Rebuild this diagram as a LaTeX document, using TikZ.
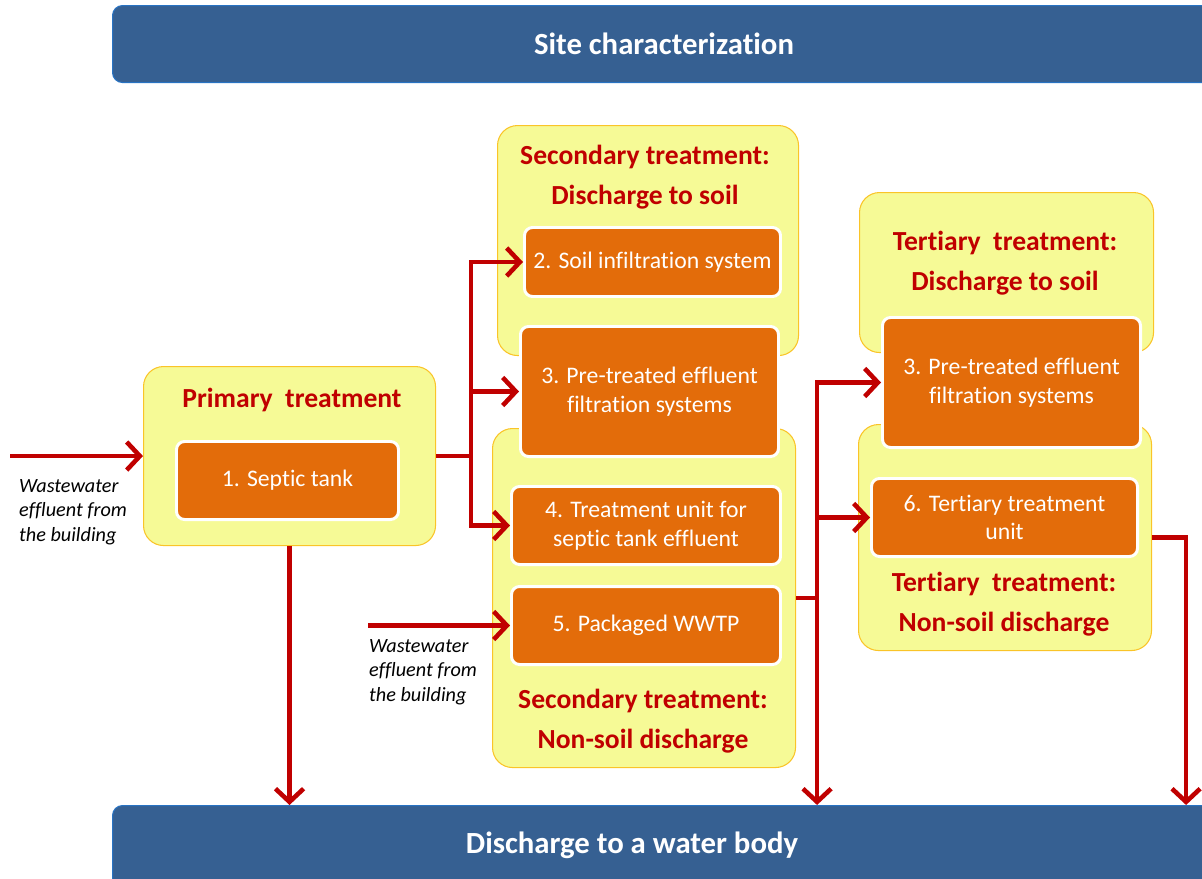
\documentclass[tikz,border=0pt]{standalone}
\usepackage{fontspec}
\setmainfont{Carlito}[Ligatures=NoCommon]
\usetikzlibrary{arrows.meta}
\definecolor{barblue}{RGB}{54,96,146}
\definecolor{baredge}{RGB}{40,115,195}
\definecolor{paleyellow}{RGB}{246,250,150}
\definecolor{goldedge}{RGB}{250,196,40}
\definecolor{unitorange}{RGB}{227,108,10}
\definecolor{flowred}{RGB}{192,0,0}
\tikzset{
	group/.style={draw=goldedge, line width=0.6pt, fill=paleyellow, rounded corners=0.4cm, anchor=north west},
	unit/.style={draw=white, line width=1.7pt, fill=unitorange, rounded corners=0.16cm, text=white, align=center, font=\fontsize{13.5}{16.4}\selectfont, anchor=north west},
	grouptitle/.style={text=flowred, align=center, font=\fontsize{15.7}{23}\selectfont\bfseries},
	bar/.style={draw=baredge, line width=0.6pt, fill=barblue, rounded corners=0.2cm, anchor=north west, minimum width=22.06cm, text=white, font=\fontsize{17.5}{21}\selectfont\bfseries},
	source/.style={align=left, font=\fontsize{11.5}{13.9}\selectfont\itshape, anchor=north west},
	pipe/.style={draw=flowred, line width=2.6pt},
	flow/.style={pipe, -{Straight Barb[length=7.5pt,width=16pt]}},
}
\begin{document}
\begin{tikzpicture}[x=0.2mm, y=-0.2mm]
	\useasboundingbox (0,0) rectangle (1202,878);
	\clip (0,0) rectangle (1202,878);

	\node [bar, minimum height=1.54cm] (site) at (112,5) {Site characterization};
	\node [bar, minimum height=1.8cm] (water) at (112,805) {};
	\node [text=white, font=\fontsize{17.5}{21}\selectfont\bfseries] (watertitle) at (632,845) {Discharge to a water body};

	\node [group, minimum width=5.84cm, minimum height=3.58cm] (prim) at (143,366) {};
	\node [group, minimum width=6.02cm, minimum height=4.6cm] (soil2) at (497,125) {};
	\node [group, minimum width=6.06cm, minimum height=6.78cm] (nonsoil2) at (492,428) {};
	\node [group, minimum width=5.88cm, minimum height=3.2cm] (soil3) at (859,192) {};
	\node [group, minimum width=5.86cm, minimum height=4.52cm] (nonsoil3) at (858,424) {};

	\node [grouptitle] (primtitle) at (292,400) {Primary~ treatment};
	\node [grouptitle] (soil2title) at (645,177) {Secondary treatment:\\Discharge to soil};
	\node [grouptitle] (nonsoil2title) at (643,721) {Secondary treatment:\\Non-soil discharge};
	\node [grouptitle] (soil3title) at (1005,263) {Tertiary~ treatment:\\Discharge to soil};
	\node [grouptitle] (nonsoil3title) at (1004,604) {Tertiary~ treatment:\\Non-soil discharge};

	\node [unit, minimum width=4.44cm, minimum height=1.56cm] (septic) at (175,440) {1. Septic tank};
	\node [unit, minimum width=5.12cm, minimum height=1.38cm] (infil) at (523,226) {2. Soil infiltration system};
	\node [unit, minimum width=5.16cm, minimum height=2.6cm] (pre3) at (519,325) {3. Pre-treated effluent\\filtration systems};
	\node [unit, minimum width=5.38cm, minimum height=1.56cm] (unit4) at (510,485) {4. Treatment unit for\\septic tank effluent};
	\node [unit, minimum width=5.38cm, minimum height=1.56cm] (wwtp) at (510,585) {5. Packaged WWTP};
	\node [unit, minimum width=5.16cm, minimum height=2.6cm] (pre3t) at (881,316) {3. Pre-treated effluent\\filtration systems};
	\node [unit, minimum width=5.32cm, minimum height=1.56cm] (unit6) at (870,477) {6. Tertiary treatment\\unit};

	\node [source] (src1) at (13,473) {Wastewater\\effluent from\\the building};
	\node [source] (src2) at (363,633) {Wastewater\\effluent from\\the building};
	\path (prim.west) ++(-133,0) coordinate (in1);
	\path (wwtp.west) ++(-142,0) coordinate (in2);

	\draw [flow] (in1) -- (prim.west);
	\draw [flow] (in2) -- (wwtp.west);
	\draw [flow] (prim.south) -- (prim.south |- water.north);

	\draw [pipe] (prim.east) -- ++(35,0) coordinate (j1);
	\draw [flow] (j1) |- (infil.west);
	\draw [flow] (j1) |- (pre3.west);
	\draw [flow] (j1) |- (unit4.west);

	\draw [pipe] (nonsoil2.east) -- ++(21,0) coordinate (j2);
	\draw [flow] (j2) |- (pre3t.west);
	\draw [flow] (j2) |- (unit6.west);
	\draw [flow] (j2) -- (j2 |- water.north);

	\draw [flow] (nonsoil3.east) -- ++(34,0) coordinate (j3) -- (j3 |- water.north);
\end{tikzpicture}
\end{document}
